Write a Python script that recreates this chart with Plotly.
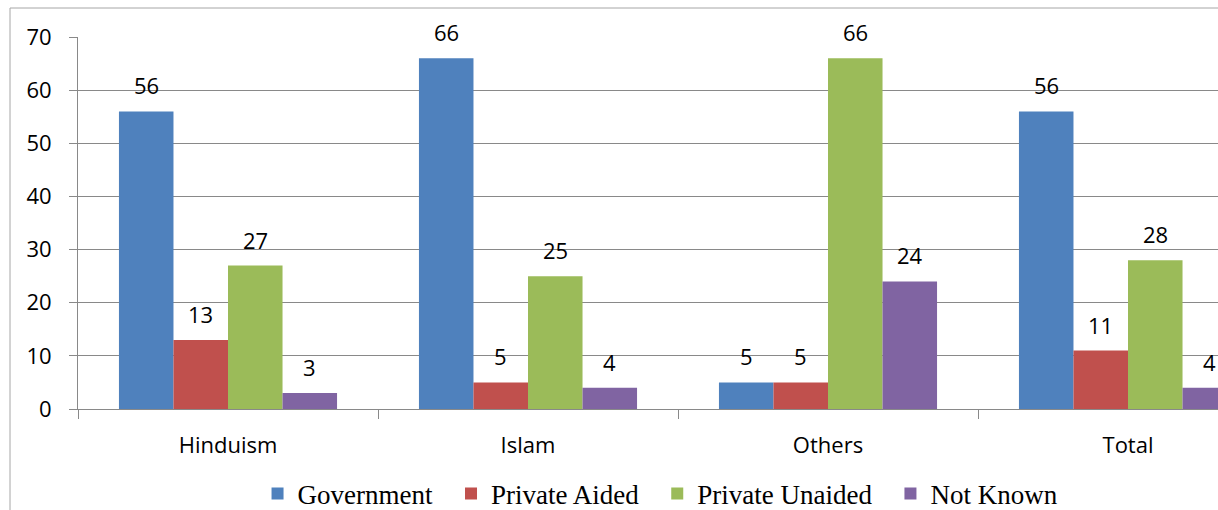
import plotly.graph_objects as go

# School-type shares by religion (%)
categories = ["Hinduism", "Islam", "Others", "Total"]
series_names = ["Government", "Private Aided", "Private Unaided", "Not Known"]
government = [56, 66, 5, 56]
private_aided = [13, 5, 5, 11]
private_unaided = [27, 25, 66, 28]
not_known = [3, 4, 24, 4]
y_ticks = [0, 10, 20, 30, 40, 50, 60, 70]

series_values = [government, private_aided, private_unaided, not_known]
colors = ["#4F81BD", "#C0504D", "#9BBB59", "#8064A2"]

SANS = "'Open Sans', Lato, sans-serif"
SERIF = "'Liberation Serif', 'Times New Roman', serif"
GRID = "#898989"
BARGAP = 0.273
FS = 22
PAD = "\u00a0" * 2  # extra room between legend entries

fig = go.Figure()
for k, (name, vals, col) in enumerate(zip(series_names, series_values, colors)):
    label = name + (PAD if k < len(series_names) - 1 else "")
    fig.add_trace(go.Bar(
        name=label, x=categories, y=vals,
        marker=dict(color=col, line=dict(width=0)),
        hovertemplate=name + ": %{y}<extra>%{x}</extra>",
    ))

# value labels placed above each bar of the group
n = len(series_values)
bar_w = (1 - BARGAP) / n
annotations = []
for i, vals in enumerate(series_values):
    for ci, v in enumerate(vals):
        annotations.append(dict(
            x=ci + (i - (n - 1) / 2) * bar_w, y=v, xref="x", yref="y",
            text=str(v), showarrow=False, yanchor="middle", yshift=26,
            font=dict(family=SANS, size=FS, color="#000000"),
        ))

fig.update_layout(
    width=1218, height=510,
    margin=dict(l=78, r=0, t=37, b=101, autoexpand=False),
    paper_bgcolor="white", plot_bgcolor="white",
    barmode="group", bargap=BARGAP, bargroupgap=0,
    annotations=annotations,
    legend=dict(
        orientation="h", x=0.511, xanchor="center", y=-0.2285, yanchor="middle",
        font=dict(family=SERIF, size=27, color="#000000"),
        bgcolor="rgba(0,0,0,0)", traceorder="normal",
    ),
    shapes=[dict(
        type="rect", xref="paper", yref="paper",
        x0=(10 - 78) / 1140, x1=1.2, y0=-0.5, y1=(409 - 8) / 372,
        line=dict(color="#A6A6A6", width=1), fillcolor="rgba(0,0,0,0)", layer="below",
    )],
)

fig.update_xaxes(
    type="category", range=[-0.5, 3.3],
    showline=True, linecolor=GRID, linewidth=1,
    ticks="outside", tickson="boundaries", ticklen=9, tickcolor=GRID, tickwidth=1,
    ticklabelstandoff=17,
    tickfont=dict(family=SANS, size=FS, color="#000000"),
    showgrid=False, zeroline=False,
)
fig.update_yaxes(
    range=[0, 70], tickvals=y_ticks,
    showline=True, linecolor=GRID, linewidth=1,
    ticks="outside", ticklen=8, tickcolor=GRID, tickwidth=1,
    ticklabelstandoff=13,
    tickfont=dict(family=SANS, size=FS, color="#000000"),
    showgrid=True, gridcolor=GRID, gridwidth=1, zeroline=False,
)

fig.write_html("out.html")
